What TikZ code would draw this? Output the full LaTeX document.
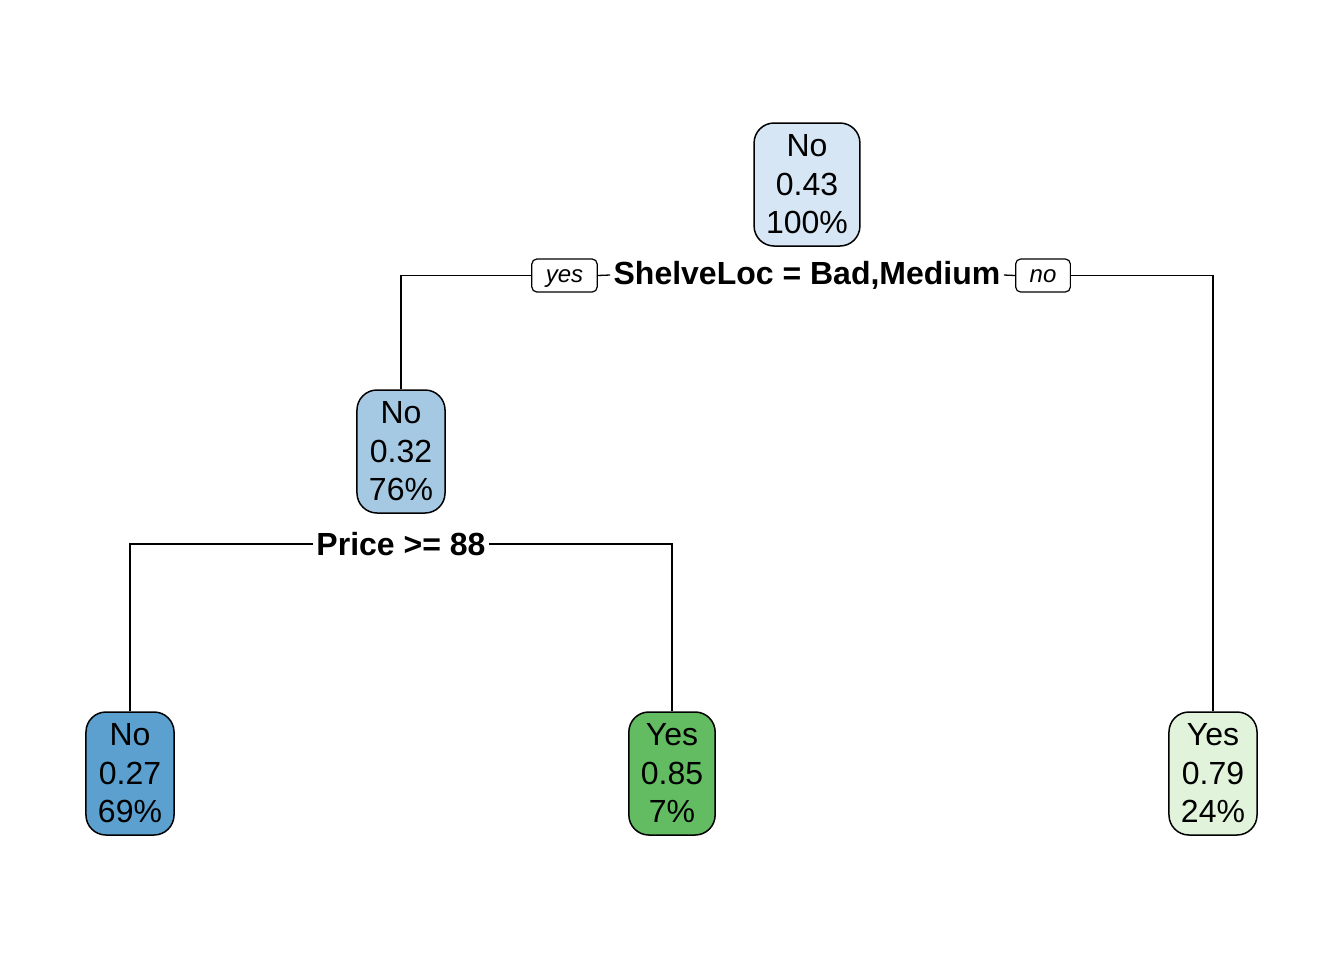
\documentclass[tikz,border=0pt]{standalone}
\usepackage{fontspec}
\setmainfont{Liberation Sans}
\usetikzlibrary{positioning,calc}
\definecolor{blueA}{RGB}{214,230,244}
\definecolor{blueB}{RGB}{166,201,227}
\definecolor{blueC}{RGB}{91,160,206}
\definecolor{greenA}{RGB}{225,243,219}
\definecolor{greenC}{RGB}{99,187,98}

\begin{document}
\begin{tikzpicture}[
		x=0.5pt,y=-0.5pt,
		treenode/.style={
			draw,
			line width=0.75pt,
			rounded corners=10pt,
			align=center,
			inner xsep=6pt,
			inner ysep=0pt,
			minimum height=61.5pt,
			font=\fontsize{16}{19.25}\selectfont,
			execute at begin node={\rule{0pt}{16pt}}
		},
		split/.style={
			inner sep=1.5pt,
			font=\fontsize{16}{19}\selectfont\bfseries
		},
		answer/.style={
			draw,
			line width=0.6pt,
			rounded corners=2.5pt,
			inner xsep=7pt,
			inner ysep=0pt,
			text height=9pt,
			text depth=2.5pt,
			minimum height=16.5pt,
			font=\fontsize{12}{14}\selectfont\itshape
		},
		edge/.style={
			line width=0.65pt
		}
		]
		\useasboundingbox (0,0) rectangle (1344,960);
		% nodes
		\node[treenode,fill=blueA] (root) at (807,184.5) {No\\0.43\\100\%};
		\node[treenode,fill=blueB] (left) at (401,451.5) {No\\0.32\\76\%};
		\node[treenode,fill=blueC] (ll) at (130,773.5) {No\\0.27\\69\%};
		\node[treenode,fill=greenC] (lr) at (672,773.5) {Yes\\0.85\\7\%};
		\node[treenode,fill=greenA] (right) at (1213,773.5) {Yes\\0.79\\24\%};
		% splits
		\node[split] (split1) at (807,275) {ShelveLoc = Bad,Medium};
		\node[answer] (yes) at (564.5,275.5) {yes};
		\node[answer] (no) at (1043,275.5) {no};
		\node[split] (split2) at (401,544) {Price >= 88};
		% connectors
		\draw[edge] (left.north) |- (yes.west);
		\draw[edge] (yes.east) -- (split1.west);
		\draw[edge] (split1.east) -- (no.west);
		\draw[edge] (no.east) -| (right.north);
		\draw[edge] (ll.north) |- (split2.west);
		\draw[edge] (split2.east) -| (lr.north);
		\end{tikzpicture}
\end{document}
